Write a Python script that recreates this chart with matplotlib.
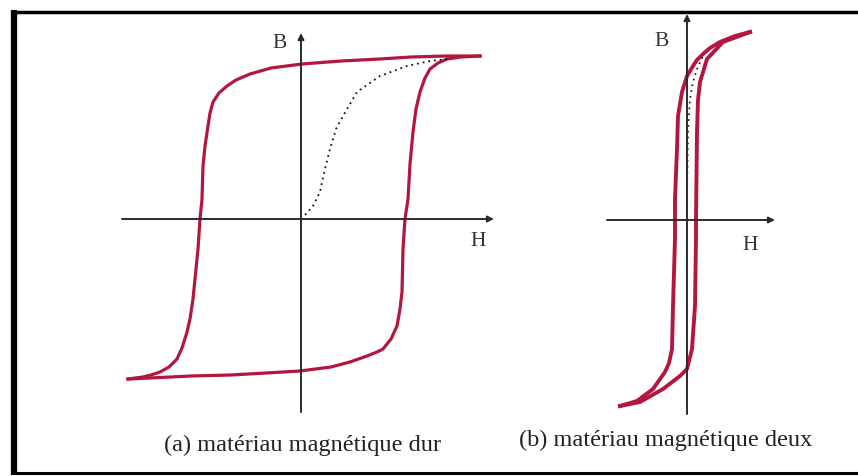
import matplotlib
matplotlib.use('Agg')
import matplotlib.pyplot as plt

# (a) hard material loop, H and B in arbitrary units
hard_down_H = [1.79, 1.46, 1.10, 0.79, 0.40, 0.01, -0.30, -0.51, -0.65, -0.74, -0.82, -0.88, -0.91, -0.93,
               -0.96, -0.98, -0.99, -1.01, -1.03, -1.06, -1.08, -1.11, -1.14, -1.19, -1.24, -1.32, -1.41,
               -1.50, -1.58, -1.73]
hard_down_B = [1.63, 1.63, 1.62, 1.60, 1.58, 1.55, 1.51, 1.45, 1.39, 1.33, 1.26, 1.17, 1.06, 0.93,
               0.73, 0.53, 0.20, 0.00, -0.30, -0.60, -0.80, -1.00, -1.13, -1.29, -1.40, -1.48, -1.53,
               -1.56, -1.58, -1.60]
hard_up_H = [-1.73, -1.51, -1.10, -0.70, -0.35, -0.01, 0.30, 0.49, 0.66, 0.76, 0.82, 0.90, 0.96, 0.99,
             1.01, 1.02, 1.04, 1.07, 1.09, 1.12, 1.15, 1.19, 1.24, 1.29, 1.37, 1.46, 1.60, 1.79]
hard_up_B = [-1.60, -1.59, -1.57, -1.56, -1.54, -1.52, -1.48, -1.43, -1.37, -1.33, -1.30, -1.20, -1.07, -0.90,
             -0.73, -0.30, 0.00, 0.20, 0.55, 0.87, 1.10, 1.27, 1.41, 1.50, 1.56, 1.60, 1.62, 1.63]
hard_first_H = [0.00, 0.05, 0.12, 0.19, 0.24, 0.29, 0.35, 0.42, 0.56, 0.79, 1.06, 1.29, 1.46]
hard_first_B = [0.00, 0.05, 0.13, 0.27, 0.50, 0.70, 0.90, 1.03, 1.27, 1.43, 1.53, 1.58, 1.60]

# (b) soft material loop
soft_down_H = [0.63, 0.48, 0.33, 0.23, 0.16, 0.10, 0.06, 0.00, -0.05, -0.09, -0.10, -0.12, -0.12,
               -0.14, -0.15, -0.18, -0.22, -0.34, -0.50, -0.67]
soft_down_B = [1.88, 1.84, 1.78, 1.72, 1.66, 1.60, 1.54, 1.44, 1.28, 1.04, 0.71, 0.21, -0.19,
               -0.86, -1.29, -1.43, -1.52, -1.69, -1.81, -1.86]
soft_up_H = [-0.67, -0.47, -0.24, -0.07, 0.00, 0.05, 0.08, 0.09, 0.09, 0.10, 0.11, 0.13, 0.20, 0.36, 0.63]
soft_up_B = [-1.86, -1.82, -1.69, -1.56, -1.49, -1.29, -0.86, -0.19, 0.01, 0.88, 1.20, 1.38, 1.61, 1.78, 1.88]
soft_first_H = [0.00, 0.00, 0.01, 0.03, 0.06, 0.10, 0.16]
soft_first_B = [0.00, 0.21, 0.88, 1.21, 1.38, 1.51, 1.64]

captions = ['(a) matériau magnétique dur', '(b) matériau magnétique deux']

W, H = 858, 477
loop_color = '#b3173f'
axis_color = '#2b2b2b'
serif = ['Liberation Serif', 'DejaVu Serif']

fig = plt.figure(figsize=(W / 100, H / 100), dpi=100)
fig.patch.set_facecolor('white')

# page-level frame and captions, in pixel units
bg = fig.add_axes([0, 0, 1, 1])
bg.set_xlim(0, W)
bg.set_ylim(H, 0)
bg.axis('off')
bg.plot([14, 14], [11, 476], color='black', lw=4.5, solid_capstyle='butt')
bg.plot([11, W], [13, 13], color='black', lw=2.5, solid_capstyle='butt')
bg.plot([11, W], [474, 474], color='black', lw=2.2, solid_capstyle='butt')
bg.text(302, 445, captions[0], ha='center', va='center', fontsize=17.5, family=serif, color='#222')
bg.text(666, 440, captions[1], ha='center', va='center', fontsize=17.5, family=serif, color='#222')


def panel(rect_px, xlim, ylim, h_axis, b_axis):
    x0, y0, x1, y1 = rect_px
    ax = fig.add_axes([x0 / W, 1 - y1 / H, (x1 - x0) / W, (y1 - y0) / H])
    ax.set_xlim(*xlim)
    ax.set_ylim(*ylim)
    ax.axis('off')
    ax.patch.set_alpha(0)
    arrow = dict(arrowstyle='-|>', lw=1.4, color=axis_color, mutation_scale=9, shrinkA=0, shrinkB=0)
    ax.annotate('', xy=(h_axis[1], 0), xytext=(h_axis[0], 0), arrowprops=arrow)
    ax.annotate('', xy=(0, b_axis[1]), xytext=(0, b_axis[0]), arrowprops=arrow)
    return ax


ax1 = panel((122, 30, 495, 415), (-1.79, 1.94), (-1.95, 1.90), (-1.79, 1.93), (-1.93, 1.86))
ax1.plot(hard_down_H, hard_down_B, color=loop_color, lw=2.3, solid_joinstyle='round')
ax1.plot(hard_up_H, hard_up_B, color=loop_color, lw=2.3, solid_joinstyle='round')
ax1.plot(hard_first_H, hard_first_B, color='#111', lw=1.3, linestyle=(0, (1, 2.2)))
ax1.text(-0.21, 1.76, 'B', ha='center', va='center', fontsize=15.5, family=serif, color='#333')
ax1.text(1.77, -0.22, 'H', ha='center', va='center', fontsize=15.5, family=serif, color='#333')

ax2 = panel((605, 12, 780, 417), (-0.82, 0.93), (-1.96, 2.09), (-0.80, 0.88), (-1.94, 2.06))
ax2.plot(soft_down_H, soft_down_B, color=loop_color, lw=2.8, solid_joinstyle='round')
ax2.plot(soft_up_H, soft_up_B, color=loop_color, lw=2.8, solid_joinstyle='round')
ax2.plot(soft_first_H, soft_first_B, color='#111', lw=1.2, linestyle=(0, (1, 2.5)))
ax2.text(-0.25, 1.80, 'B', ha='center', va='center', fontsize=15.5, family=serif, color='#333')
ax2.text(0.63, -0.24, 'H', ha='center', va='center', fontsize=15.5, family=serif, color='#333')

fig.savefig('out.png', dpi=100, facecolor='white')
